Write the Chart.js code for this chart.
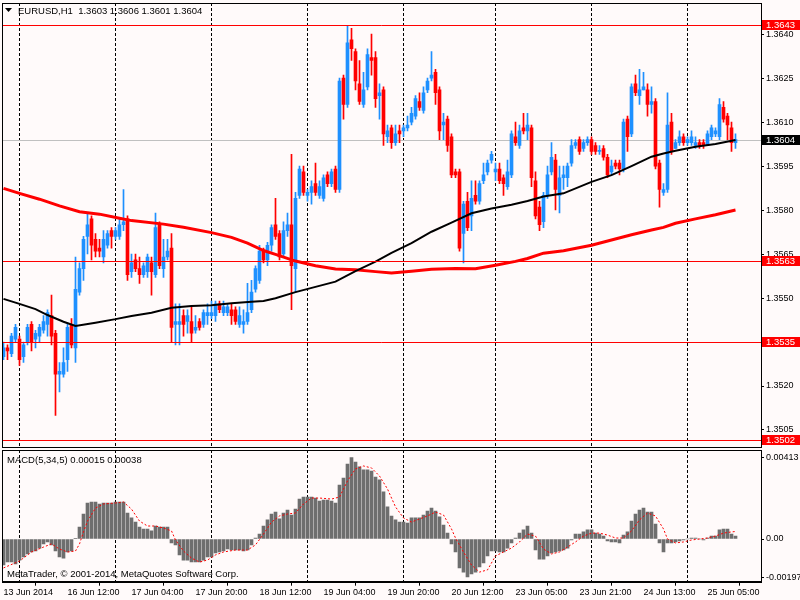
<!DOCTYPE html>
<html><head><meta charset="utf-8">
<script src="https://cdn.jsdelivr.net/npm/chart.js@4.4.0/dist/chart.umd.min.js"></script>
<style>
html,body{margin:0;padding:0;background:#fffafa;}
#wrap{position:relative;width:800px;height:600px;background:#fffafa;overflow:hidden}
#c1{position:absolute;left:0;top:0;}
#c2{position:absolute;left:0;top:448px;}
</style></head><body>
<div id="wrap"><canvas id="c1" width="800" height="448"></canvas><canvas id="c2" width="800" height="152"></canvas></div>
<script>
// ---------------- DATA (EURUSD H1) ----------------
const opens = [1.3530,1.3533,1.3531,1.3536,1.3536,1.3530,1.3535,1.3541,1.3536,1.3537,
1.3539,1.3541,1.3544,1.3538,1.3524,1.3524,1.3529,1.3541,1.3533,1.3552,
1.3560,1.3571,1.3577,1.3570,1.3567,1.3564,1.3568,1.3573,1.3571,1.3571,
1.3575,1.3577,1.3559,1.3563,1.3560,1.3558,1.3559,1.3562,1.3558,1.3575,
1.3560,1.3564,1.3567,1.3541,1.3541,1.3544,1.3542,1.3542,1.3539,1.3542,
1.3541,1.3544,1.3544,1.3544,1.3548,1.3545,1.3545,1.3546,1.3546,1.3541,
1.3541,1.3542,1.3546,1.3553,1.3556,1.3566,1.3563,1.3568,1.3575,1.3572,
1.3565,1.3573,1.3575,1.3560,1.3585,1.3593,1.3585,1.3586,1.3589,1.3585,
1.3584,1.3592,1.3589,1.3594,1.3587,1.3625,1.3616,1.3638,1.3634,1.3623,
1.3616,1.3622,1.3632,1.3632,1.3619,1.3621,1.3605,1.3608,1.3603,1.3607,
1.3607,1.3608,1.3610,1.3612,1.3617,1.3614,1.3621,1.3625,1.3627,1.3621,
1.3609,1.3611,1.3605,1.3593,1.3593,1.3572,1.3583,1.3578,1.3585,1.3583,
1.3590,1.3593,1.3597,1.3593,1.3594,1.3591,1.3588,1.3592,1.3605,1.3602,
1.3608,1.3607,1.3608,1.3590,1.3581,1.3576,1.3585,1.3593,1.3597,1.3585,
1.3591,1.3591,1.3596,1.3602,1.3604,1.3601,1.3603,1.3604,1.3602,1.3600,
1.3601,1.3598,1.3593,1.3596,1.3596,1.3594,1.3611,1.3606,1.3623,1.3619,
1.3621,1.3621,1.3616,1.3617,1.3596,1.3586,1.3587,1.3610,1.3601,1.3603,
1.3605,1.3603,1.3603,1.3602,1.3603,1.3603,1.3602,1.3605,1.3606,1.3605,
1.3615,1.3612,1.3608,1.3603];
const highs = [1.3535,1.3534,1.3538,1.3541,1.3537,1.3535,1.3541,1.3542,1.3539,1.3541,
1.3544,1.3546,1.3551,1.3539,1.3528,1.3533,1.3541,1.3543,1.3564,1.3562,
1.3571,1.3579,1.3578,1.3572,1.3570,1.3573,1.3573,1.3574,1.3574,1.3577,
1.3587,1.3578,1.3565,1.3565,1.3564,1.3562,1.3565,1.3564,1.3579,1.3576,
1.3570,1.3570,1.3572,1.3548,1.3548,1.3546,1.3546,1.3547,1.3544,1.3543,
1.3546,1.3548,1.3549,1.3549,1.3549,1.3549,1.3548,1.3548,1.3547,1.3547,
1.3546,1.3555,1.3556,1.3561,1.3568,1.3567,1.3569,1.3575,1.3584,1.3573,
1.3576,1.3579,1.3599,1.3586,1.3595,1.3595,1.3587,1.3590,1.3596,1.3590,
1.3592,1.3593,1.3594,1.3595,1.3625,1.3626,1.3643,1.3642,1.3635,1.3631,
1.3627,1.3635,1.3640,1.3634,1.3623,1.3622,1.3609,1.3609,1.3609,1.3609,
1.3609,1.3612,1.3615,1.3619,1.3620,1.3622,1.3625,1.3634,1.3628,1.3622,
1.3613,1.3612,1.3606,1.3594,1.3594,1.3583,1.3586,1.3590,1.3590,1.3590,
1.3596,1.3597,1.3600,1.3596,1.3596,1.3592,1.3597,1.3607,1.3610,1.3609,
1.3613,1.3613,1.3609,1.3593,1.3583,1.3586,1.3595,1.3603,1.3599,1.3595,
1.3595,1.3596,1.3604,1.3604,1.3605,1.3604,1.3605,1.3605,1.3603,1.3602,
1.3602,1.3599,1.3597,1.3597,1.3597,1.3611,1.3612,1.3623,1.3626,1.3628,
1.3627,1.3623,1.3622,1.3618,1.3597,1.3589,1.3620,1.3613,1.3604,1.3607,
1.3606,1.3605,1.3607,1.3605,1.3604,1.3604,1.3607,1.3609,1.3608,1.3618,
1.3617,1.3613,1.3610,1.3606];
const lows = [1.3529,1.3529,1.3530,1.3535,1.3527,1.3528,1.3534,1.3532,1.3533,1.3535,
1.3538,1.3537,1.3534,1.3510,1.3518,1.3523,1.3525,1.3533,1.3528,1.3551,
1.3556,1.3565,1.3563,1.3564,1.3564,1.3562,1.3567,1.3567,1.3570,1.3570,
1.3573,1.3556,1.3557,1.3559,1.3555,1.3557,1.3557,1.3551,1.3557,1.3560,
1.3557,1.3563,1.3535,1.3534,1.3534,1.3537,1.3538,1.3535,1.3538,1.3539,
1.3540,1.3541,1.3543,1.3542,1.3545,1.3544,1.3544,1.3541,1.3541,1.3540,
1.3538,1.3541,1.3545,1.3552,1.3555,1.3562,1.3561,1.3566,1.3570,1.3563,
1.3564,1.3571,1.3546,1.3552,1.3584,1.3585,1.3583,1.3582,1.3585,1.3584,
1.3583,1.3588,1.3588,1.3586,1.3586,1.3611,1.3615,1.3631,1.3621,1.3616,
1.3615,1.3621,1.3626,1.3615,1.3611,1.3602,1.3603,1.3601,1.3602,1.3603,
1.3605,1.3607,1.3609,1.3611,1.3614,1.3613,1.3620,1.3624,1.3616,1.3604,
1.3604,1.3600,1.3591,1.3591,1.3566,1.3562,1.3573,1.3573,1.3582,1.3582,
1.3589,1.3592,1.3596,1.3590,1.3589,1.3585,1.3587,1.3591,1.3602,1.3601,
1.3606,1.3604,1.3588,1.3577,1.3573,1.3574,1.3584,1.3592,1.3580,1.3579,
1.3587,1.3588,1.3595,1.3601,1.3599,1.3600,1.3602,1.3599,1.3599,1.3599,
1.3597,1.3591,1.3592,1.3594,1.3592,1.3593,1.3600,1.3605,1.3619,1.3616,
1.3621,1.3612,1.3613,1.3594,1.3581,1.3585,1.3586,1.3599,1.3601,1.3602,
1.3602,1.3602,1.3602,1.3601,1.3601,1.3601,1.3602,1.3604,1.3605,1.3604,
1.3610,1.3604,1.3600,1.3601];
const closes = [1.3533,1.3532,1.3537,1.3540,1.3529,1.3534,1.3540,1.3535,1.3538,1.3540,
1.3542,1.3545,1.3537,1.3524,1.3525,1.3528,1.3540,1.3534,1.3553,1.3560,
1.3570,1.3575,1.3568,1.3566,1.3566,1.3570,1.3572,1.3571,1.3573,1.3575,
1.3576,1.3558,1.3562,1.3560,1.3558,1.3561,1.3564,1.3559,1.3574,1.3561,
1.3564,1.3566,1.3540,1.3542,1.3542,1.3541,1.3544,1.3538,1.3540,1.3540,
1.3545,1.3545,1.3545,1.3548,1.3546,1.3547,1.3547,1.3544,1.3542,1.3544,
1.3542,1.3545,1.3552,1.3560,1.3566,1.3563,1.3568,1.3574,1.3571,1.3564,
1.3573,1.3575,1.3561,1.3584,1.3594,1.3586,1.3586,1.3588,1.3586,1.3588,
1.3591,1.3589,1.3593,1.3587,1.3624,1.3616,1.3637,1.3635,1.3624,1.3617,
1.3621,1.3633,1.3631,1.3618,1.3620,1.3606,1.3607,1.3603,1.3606,1.3606,
1.3608,1.3609,1.3613,1.3618,1.3615,1.3620,1.3624,1.3626,1.3620,1.3607,
1.3610,1.3602,1.3592,1.3592,1.3567,1.3582,1.3574,1.3584,1.3583,1.3589,
1.3592,1.3596,1.3599,1.3594,1.3590,1.3589,1.3593,1.3606,1.3603,1.3607,
1.3607,1.3609,1.3591,1.3578,1.3575,1.3585,1.3592,1.3598,1.3587,1.3591,
1.3592,1.3595,1.3602,1.3603,1.3600,1.3603,1.3604,1.3600,1.3600,1.3600,
1.3598,1.3592,1.3595,1.3595,1.3594,1.3610,1.3605,1.3622,1.3620,1.3621,
1.3622,1.3616,1.3617,1.3595,1.3587,1.3587,1.3609,1.3600,1.3603,1.3605,
1.3603,1.3604,1.3605,1.3603,1.3602,1.3602,1.3606,1.3608,1.3607,1.3616,
1.3611,1.3609,1.3603,1.3604];

// moving averages, read at sampled bars
const maRedIdx = [0,4,9,14,19,24,29,32,40,45,52,57,61,65,68,73,78,83,88,93,97,102,107,113,118,123,128,131,135,140,147,152,157,162,165,168,173,178,183];
const maRed = [1.35874,1.35857,1.35837,1.35814,1.35794,1.35786,1.35772,1.35764,1.35752,1.35741,1.35723,1.35707,1.35687,1.35662,1.35649,1.35626,1.35610,1.35599,1.35596,1.35590,1.35585,1.35591,1.35598,1.35601,1.35600,1.35612,1.35625,1.35635,1.35653,1.35661,1.35680,1.35698,1.35716,1.35732,1.35741,1.35755,1.35770,1.35784,1.35800];
const maBlackIdx = [0,4,8,11,15,18,23,28,32,37,42,47,52,57,62,65,68,73,78,83,88,93,97,102,107,112,117,122,127,131,135,140,147,152,157,162,165,168,173,178,183];
const maBlack = [1.35497,1.35480,1.35462,1.35442,1.35419,1.35405,1.35416,1.35428,1.35439,1.35450,1.35467,1.35473,1.35475,1.35482,1.35487,1.35490,1.35499,1.35520,1.35538,1.35556,1.35592,1.35624,1.35654,1.35687,1.35726,1.35757,1.35789,1.35805,1.35818,1.35831,1.35846,1.35857,1.35896,1.35919,1.35950,1.35982,1.35993,1.36002,1.36016,1.36025,1.36039];

// MACD(5,34,5) histogram, one value per bar
const macd = [-0.00132,-0.00117,-0.00117,-0.00127,-0.00107,-0.00091,-0.00076,-0.00066,-0.00061,-0.00046,
-0.00025,-0.00015,-0.00030,-0.00061,-0.00091,-0.00097,-0.00066,-0.00061,0.00003,0.00061,
0.00127,0.00183,0.00188,0.00188,0.00178,0.00183,0.00183,0.00183,0.00188,0.00188,
0.00188,0.00132,0.00107,0.00086,0.00061,0.00051,0.00051,0.00041,0.00066,0.00061,
0.00061,0.00061,-0.00020,-0.00030,-0.00081,-0.00107,-0.00107,-0.00117,-0.00117,-0.00117,
-0.00107,-0.00091,-0.00091,-0.00071,-0.00066,-0.00061,-0.00051,-0.00056,-0.00056,-0.00056,
-0.00061,-0.00056,-0.00030,0.00005,0.00025,0.00066,0.00097,0.00127,0.00137,0.00102,
0.00132,0.00147,0.00122,0.00152,0.00203,0.00213,0.00213,0.00213,0.00208,0.00193,
0.00198,0.00198,0.00193,0.00183,0.00274,0.00310,0.00381,0.00413,0.00391,0.00366,
0.00351,0.00351,0.00345,0.00315,0.00300,0.00239,0.00163,0.00117,0.00097,0.00086,
0.00086,0.00081,0.00107,0.00107,0.00107,0.00122,0.00142,0.00157,0.00142,0.00112,
0.00071,0.00030,-0.00025,-0.00066,-0.00147,-0.00168,-0.00193,-0.00178,-0.00168,-0.00142,
-0.00122,-0.00086,-0.00061,-0.00061,-0.00066,-0.00066,-0.00046,-0.00020,0.00005,0.00030,
0.00046,0.00066,0.00030,-0.00056,-0.00102,-0.00102,-0.00086,-0.00071,-0.00066,-0.00061,
-0.00056,-0.00046,-0.00005,0.00025,0.00025,0.00036,0.00046,0.00046,0.00030,0.00025,
0.00015,-0.00010,-0.00015,-0.00015,-0.00020,0.00020,0.00036,0.00091,0.00127,0.00147,
0.00157,0.00137,0.00137,0.00076,-0.00020,-0.00066,-0.00020,-0.00020,-0.00015,-0.00010,
-0.00005,0.00000,0.00005,0.00005,0.00000,-0.00005,0.00005,0.00015,0.00015,0.00046,
0.00051,0.00051,0.00025,0.00015];
// MACD signal line, read at sampled bars
const sigIdx = [0,4,7,10,12,14,16,18,19,20,21,23,25,28,30,32,34,36,38,40,42,43,45,47,49,51,53,55,58,61,63,65,67,69,71,73,75,77,79,82,84,86,88,90,92,94,96,98,100,102,104,106,108,110,112,113,115,117,119,121,123,125,127,129,131,133,135,137,139,141,143,145,147,149,151,153,155,157,159,161,163,165,166,168,170,172,174,176,178,180,182,183];
const signal = [-0.00147,-0.00112,-0.00066,-0.00041,-0.00025,-0.00051,-0.00066,-0.00061,-0.00025,0.00036,
0.00091,0.00157,0.00178,0.00183,0.00188,0.00152,0.00091,0.00066,0.00066,0.00056,
0.00041,-0.00005,-0.00061,-0.00097,-0.00117,-0.00107,-0.00081,-0.00066,-0.00056,-0.00056,
-0.00030,0.00025,0.00086,0.00117,0.00127,0.00132,0.00178,0.00208,0.00208,0.00203,
0.00213,0.00295,0.00356,0.00371,0.00361,0.00320,0.00254,0.00163,0.00107,0.00086,
0.00102,0.00117,0.00137,0.00122,0.00051,0.00005,-0.00066,-0.00132,-0.00168,-0.00157,
-0.00086,-0.00066,-0.00046,-0.00015,0.00025,0.00015,-0.00051,-0.00076,-0.00066,-0.00041,
-0.00015,0.00015,0.00030,0.00030,0.00020,0.00005,0.00005,0.00041,0.00097,0.00132,
0.00117,0.00051,0.00000,-0.00020,-0.00015,-0.00005,0.00000,0.00005,0.00015,0.00030,
0.00036,0.00038];

// horizontal levels and labels
const levelPrices = [1.3643, 1.35625, 1.3535, 1.35016];
const levelLabels = ["1.3643", "1.3563", "1.3535", "1.3502"];
const priceTicks = [1.3505,1.3520,1.3535,1.3550,1.3565,1.3580,1.3595,1.3610,1.3625,1.3640];
const macdTicks = [-0.00197, 0, 0.00413];
const timeLabelIdx = [0,16,32,48,64,80,96,112,128,144,160,176];
const timeLabels = ["13 Jun 2014","16 Jun 12:00","17 Jun 04:00","17 Jun 20:00","18 Jun 12:00","19 Jun 04:00","19 Jun 20:00","20 Jun 12:00","23 Jun 05:00","23 Jun 21:00","24 Jun 13:00","25 Jun 05:00"];
const dayStartIdx = [4,28,52,76,100,123,147,171];

// ---------------- STYLE ----------------
const BLUE = '#1e90ff', RED = '#ff0000', FONT = '"Liberation Sans", Arial, sans-serif';
const XMIN = -0.25, XMAX = 189.375;
const PMIN = 1.34992, PMAX = 1.36506;
const MMIN = -0.002169, MMAX = 0.004521;
Chart.defaults.font.family = FONT;
Chart.defaults.color = '#000';

const n = opens.length;
const idx = opens.map((_, i) => i);
const candleColors = idx.map(i => closes[i] >= opens[i] ? BLUE : RED);
const bid = closes[n - 1];

function vGrid(chart) {
  const {ctx, chartArea: a, scales: {x}} = chart;
  ctx.save();
  ctx.strokeStyle = '#000'; ctx.lineWidth = 1; ctx.setLineDash([3, 2]);
  dayStartIdx.forEach(i => {
    const px = x.getPixelForValue(i);
    ctx.beginPath(); ctx.moveTo(px, a.top); ctx.lineTo(px, a.bottom); ctx.stroke();
  });
  ctx.restore();
}
function frame(chart) {
  const {ctx, chartArea: a} = chart;
  ctx.save(); ctx.strokeStyle = '#000'; ctx.lineWidth = 1;
  ctx.strokeRect(Math.floor(a.left) + 0.5, Math.floor(a.top) + 0.5, Math.round(a.right - a.left), Math.round(a.bottom - a.top));
  ctx.restore();
}

const mainOverlay = {
  id: 'mainOverlay',
  beforeDatasetsDraw(chart) {
    vGrid(chart);
    const {ctx, chartArea: a, scales: {y}} = chart;
    const by = Math.round(y.getPixelForValue(bid)) + 0.5;
    ctx.save(); ctx.strokeStyle = '#c0c0c0'; ctx.lineWidth = 1;
    ctx.beginPath(); ctx.moveTo(a.left, by); ctx.lineTo(a.right, by); ctx.stroke(); ctx.restore();
  },
  afterDatasetsDraw(chart) {
    const {ctx, chartArea: a, scales: {y}} = chart;
    ctx.save(); ctx.strokeStyle = RED; ctx.lineWidth = 1;
    levelPrices.forEach(p => {
      const py = Math.round(y.getPixelForValue(p)) + 0.5;
      ctx.beginPath(); ctx.moveTo(a.left, py); ctx.lineTo(a.right, py); ctx.stroke();
    });
    ctx.restore();
  },
  afterDraw(chart) {
    frame(chart);
    const {ctx, chartArea: a, scales: {y}} = chart;
    ctx.save();
    ctx.font = '9.5px ' + FONT; ctx.textBaseline = 'middle';
    const box = (p, txt, col) => {
      const py = Math.round(y.getPixelForValue(p));
      ctx.fillStyle = col; ctx.fillRect(a.right + 1, py - 5, 800 - a.right, 10);
      ctx.fillStyle = '#fff'; ctx.fillText(txt, a.right + 5, py + 0.5);
    };
    levelPrices.forEach((p, k) => box(p, levelLabels[k], RED));
    box(bid, bid.toFixed(4), '#000');
    // title
    ctx.fillStyle = '#000';
    ctx.beginPath(); ctx.moveTo(5, 8); ctx.lineTo(12, 8); ctx.lineTo(8.5, 12); ctx.closePath(); ctx.fill();
    ctx.fillText('EURUSD,H1  ' + [opens[n-1], highs[n-1], lows[n-1], closes[n-1]].map(v => v.toFixed(4)).join(' '), 18, 11);
    ctx.restore();
  }
};

const macdOverlay = {
  id: 'macdOverlay',
  beforeDatasetsDraw(chart) { vGrid(chart); },
  afterDraw(chart) {
    frame(chart);
    const {ctx} = chart;
    ctx.save(); ctx.fillStyle = '#000'; ctx.font = '9.5px ' + FONT; ctx.textBaseline = 'middle';
    ctx.fillText('MACD(5,34,5) ' + macd[n-1].toFixed(5) + ' ' + signal[signal.length-1].toFixed(5), 7, 12);
    ctx.fillText('MetaTrader, \u00A9 2001-2014, MetaQuotes Software Corp.', 7, 126.5);
    ctx.restore();
  }
};

const yAxisCommon = {
  position: 'right',
  afterFit(s) { s.width = 39; s.paddingTop = 0; s.paddingBottom = 0; },
  grid: { drawOnChartArea: false, drawTicks: true, tickLength: 3, color: '#000' },
  border: { display: true, color: '#000' }
};

new Chart(document.getElementById('c1'), {
  type: 'bar',
  data: { datasets: [
    { type: 'line', label: 'MA black', data: maBlackIdx.map((x, k) => ({x, y: maBlack[k]})), borderColor: '#000', borderWidth: 2, pointRadius: 0, tension: 0, order: 0 },
    { type: 'line', label: 'MA red', data: maRedIdx.map((x, k) => ({x, y: maRed[k]})), borderColor: RED, borderWidth: 3, pointRadius: 0, tension: 0, order: 1 },
    { label: 'body', data: idx.map(i => ({x: i, y: [opens[i], closes[i]]})), backgroundColor: candleColors, barThickness: 3, minBarLength: 1, grouped: false, borderWidth: 0, order: 2 },
    { label: 'wick', data: idx.map(i => ({x: i, y: [lows[i], highs[i]]})), backgroundColor: candleColors, barThickness: 1, minBarLength: 1, grouped: false, borderWidth: 0, order: 3 }
  ]},
  options: {
    responsive: false, animation: false,
    layout: { padding: { left: 2.5, top: 3, right: 0, bottom: 1 } },
    plugins: { legend: { display: false }, tooltip: { enabled: false } },
    scales: {
      x: { type: 'linear', min: XMIN, max: XMAX, offset: false, display: false },
      y: Object.assign({}, yAxisCommon, {
        min: PMIN, max: PMAX,
        afterBuildTicks(s) { s.ticks = priceTicks.map(v => ({value: v})); },
        ticks: { callback: v => Number(v).toFixed(4), font: { size: 9 }, color: '#000', padding: 2 }
      })
    }
  },
  plugins: [mainOverlay]
});

new Chart(document.getElementById('c2'), {
  type: 'bar',
  data: { datasets: [
    { type: 'line', label: 'Signal', data: sigIdx.map((x, k) => ({x, y: signal[k]})), borderColor: RED, borderWidth: 1, borderDash: [2, 2], pointRadius: 0, tension: 0, order: 0 },
    { label: 'MACD', data: idx.map(i => ({x: i, y: macd[i]})), backgroundColor: '#6e6e6e', barThickness: 3, grouped: false, borderWidth: 0, order: 1 }
  ]},
  options: {
    responsive: false, animation: false,
    layout: { padding: { left: 2.5, top: 2, right: 0, bottom: 0 } },
    plugins: { legend: { display: false }, tooltip: { enabled: false } },
    scales: {
      x: {
        type: 'linear', min: XMIN, max: XMAX, offset: false, position: 'bottom',
        afterBuildTicks(s) { s.ticks = timeLabelIdx.map(v => ({value: v})); },
        afterFit(s) { s.height = 18.3; s.paddingLeft = 0; s.paddingRight = 0; },
        ticks: { autoSkip: false, maxRotation: 0, minRotation: 0, align: 'start', padding: 1, font: { size: 9 }, color: '#000',
          callback: v => { const k = timeLabelIdx.indexOf(v); return k >= 0 ? timeLabels[k] : ''; } },
        grid: { drawOnChartArea: false, drawTicks: true, tickLength: 4, color: '#000' },
        border: { display: true, color: '#000' }
      },
      y: Object.assign({}, yAxisCommon, {
        min: MMIN, max: MMAX,
        afterBuildTicks(s) { s.ticks = macdTicks.map(v => ({value: v})); },
        ticks: { callback: v => v === 0 ? '0.00' : Number(v).toFixed(5), font: { size: 9 }, color: '#000', padding: 2 }
      })
    }
  },
  plugins: [macdOverlay]
});
</script>
</body></html>
